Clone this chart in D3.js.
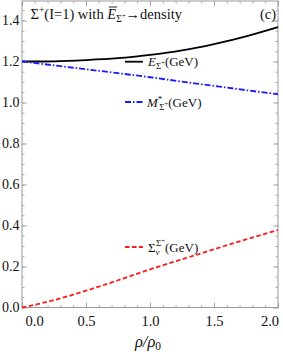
<!DOCTYPE html>
<html>
<head>
<meta charset="utf-8">
<script src="https://cdn.jsdelivr.net/npm/d3@7"></script>
<style>
  html, body { margin: 0; padding: 0; background: #fff; }
  svg { display: block; font-family: 'Liberation Serif', 'DejaVu Serif', serif; }
</style>
</head>
<body>
<svg id="chart" width="283" height="354"></svg>
<script>
'use strict';
// density rho/rho0
const RHO = [0, 0.25, 0.5, 0.75, 1.0, 1.25, 1.5, 1.75, 2.0];
// E_Sigma+ (GeV)
const ENERGY = [1.2, 1.201, 1.207, 1.216, 1.232, 1.254, 1.285, 1.323, 1.368];
// M*_Sigma+ (GeV)
const MASS = [1.2, 1.181, 1.162, 1.143, 1.123, 1.102, 1.081, 1.06, 1.04];
// Sigma_v (GeV)
const SIGMA_V = [0, 0.036, 0.082, 0.133, 0.186, 0.235, 0.284, 0.332, 0.378];

const X_TICKS = [0, 0.5, 1.0, 1.5, 2.0];
const Y_TICKS = [0, 0.2, 0.4, 0.6, 0.8, 1.0, 1.2, 1.4];

const FRAME = '#9a9a9a';
const SERIF = "'Liberation Serif', 'DejaVu Serif', serif";

let svg = d3.select('#chart');
let margin = { top: 1, right: 5, bottom: 46.5, left: 22 },
  width = 283 - margin.left - margin.right,
  height = 354 - margin.top - margin.bottom;

let x = d3.scaleLinear().domain([0, 2]).range([margin.left, margin.left + width]);
let y = d3.scaleLinear().domain([0, 1.495]).range([margin.top + height, margin.top]);

let xMinor = d3.range(0, 2.001, 0.1).map((v) => +v.toFixed(2));
let yMinor = d3.range(0, 1.49, 0.05).map((v) => +v.toFixed(2));

// frame ticks (all four sides, pointing inward)
function tickStyle(g) {
  g.select('.domain').remove();
  g.selectAll('.tick line').attr('stroke', FRAME).attr('stroke-width', 0.8);
}

svg.append('g')
  .attr('transform', `translate(0,${y(0)})`)
  .call(d3.axisBottom(x).tickValues(xMinor).tickSize(-2.5).tickFormat(''))
  .call(tickStyle);
svg.append('g')
  .attr('transform', `translate(0,${y(0)})`)
  .call(d3.axisBottom(x).tickValues(X_TICKS).tickSize(-5).tickPadding(8).tickFormat(d3.format('.1f')))
  .call(tickStyle)
  .call((g) => g.attr('font-family', SERIF))
  .call((g) => g.selectAll('.tick text').attr('fill', '#111').attr('font-size', 14.5))
  .call((g) => g.selectAll('.tick:first-of-type text').attr('text-anchor', 'start').attr('x', 3))
  .call((g) => g.selectAll('.tick:last-of-type text').attr('text-anchor', 'end').attr('x', 0.5));

svg.append('g')
  .attr('transform', `translate(0,${y.range()[1]})`)
  .call(d3.axisTop(x).tickValues(xMinor).tickSize(-2.5).tickFormat(''))
  .call(tickStyle);
svg.append('g')
  .attr('transform', `translate(0,${y.range()[1]})`)
  .call(d3.axisTop(x).tickValues(X_TICKS).tickSize(-5).tickFormat(''))
  .call(tickStyle);

svg.append('g')
  .attr('transform', `translate(${x(0)},0)`)
  .call(d3.axisLeft(y).tickValues(yMinor).tickSize(-2.5).tickFormat(''))
  .call(tickStyle);
svg.append('g')
  .attr('transform', `translate(${x(0)},0)`)
  .call(d3.axisLeft(y).tickValues(Y_TICKS).tickSize(-5).tickPadding(2.5).tickFormat(d3.format('.1f')))
  .call(tickStyle)
  .call((g) => g.attr('font-family', SERIF))
  .call((g) => g.selectAll('.tick text').attr('fill', '#111').attr('font-size', 14));

svg.append('g')
  .attr('transform', `translate(${x(2)},0)`)
  .call(d3.axisRight(y).tickValues(yMinor).tickSize(-2.5).tickFormat(''))
  .call(tickStyle);
svg.append('g')
  .attr('transform', `translate(${x(2)},0)`)
  .call(d3.axisRight(y).tickValues(Y_TICKS).tickSize(-5).tickFormat(''))
  .call(tickStyle);

svg.append('rect')
  .attr('x', x(0)).attr('y', y.range()[1])
  .attr('width', x(2) - x(0)).attr('height', y(0) - y.range()[1])
  .attr('fill', 'none').attr('stroke', FRAME).attr('stroke-width', 1);

// curves
let series = [
  { values: ENERGY, color: '#000', dash: null },
  { values: MASS, color: '#1a1aff', dash: '6,2,1.5,2' },
  { values: SIGMA_V, color: '#ff1a1a', dash: '4.5,2.5' },
];

let line = d3.line()
  .x((d) => x(d[0]))
  .y((d) => y(d[1]))
  .curve(d3.curveNatural);

svg.append('g')
  .selectAll('path')
  .data(series)
  .enter()
  .append('path')
  .attr('fill', 'none')
  .attr('stroke', (d) => d.color)
  .attr('stroke-width', 1.8)
  .attr('stroke-dasharray', (d) => d.dash)
  .attr('d', (d) => line(RHO.map((r, i) => [r, d.values[i]])));

// rich text helper: pieces = [{t, size, shift, italic, dx}]
function richText(parent, px, py, base, pieces) {
  let text = parent.append('text')
    .attr('x', px).attr('y', py)
    .attr('font-size', base).attr('font-family', SERIF).attr('fill', '#111');
  let prev = 0;
  pieces.forEach((p) => {
    let shift = p.shift || 0;
    let ts = text.append('tspan')
      .attr('dy', shift - prev)
      .attr('font-size', p.size || base)
      .text(p.t);
    if (p.italic) ts.attr('font-style', 'italic');
    if (p.dx) ts.attr('dx', p.dx);
    prev = shift;
  });
  return text;
}

// title
let title = richText(svg, 30.5, 18.5, 14.5, [
  { t: 'Σ' },
  { t: '+', size: 9.5, shift: -5.5 },
  { t: '(I=1) with ', shift: 0 },
  { t: 'E', italic: true },
  { t: 'Σ', size: 9.5, shift: 3 },
  { t: '+', size: 7, shift: -1 },
  { t: '→density', shift: 0 },
]);
// overline above the E
let titleStr = 'Σ+(I=1) with ';
let eBox = title.node().getExtentOfChar(titleStr.length);
svg.append('line')
  .attr('x1', eBox.x + 1.5).attr('x2', eBox.x + eBox.width + 1)
  .attr('y1', eBox.y + 1.5).attr('y2', eBox.y + 1.5)
  .attr('stroke', '#111').attr('stroke-width', 0.9);

svg.append('text')
  .attr('x', 276).attr('y', 18.5)
  .attr('text-anchor', 'end')
  .attr('font-size', 14.5)
  .attr('font-family', SERIF)
  .attr('fill', '#111')
  .text('(c)');

// legend entries
let legend = svg.append('g');
function legendKey(yy, s) {
  legend.append('line')
    .attr('x1', 125).attr('x2', 143)
    .attr('y1', yy).attr('y2', yy)
    .attr('stroke', s.color).attr('stroke-width', 1.8)
    .attr('stroke-dasharray', s.dash);
}
legendKey(61.7, series[0]);
richText(legend, 148, 66, 13, [
  { t: 'E', italic: true },
  { t: 'Σ', size: 9, shift: 3 },
  { t: '+', size: 6.5, shift: -1 },
  { t: '(GeV)', shift: 0 },
]);

legendKey(102, series[1]);
richText(legend, 147, 106.5, 13, [
  { t: 'M', italic: true },
  { t: '*', size: 9, shift: -5 },
  { t: 'Σ', size: 9, shift: 3.5, dx: -3 },
  { t: '+', size: 6.5, shift: -0.5 },
  { t: '(GeV)', shift: 0 },
]);

legendKey(247, series[2]);
richText(legend, 148, 251.5, 13, [
  { t: 'Σ' },
  { t: 'v', size: 9, shift: 3.5, italic: true },
  { t: 'Σ', size: 9, shift: -6, dx: -3.5 },
  { t: '+', size: 6.5, shift: -9 },
  { t: '(GeV)', shift: 0 },
]);

// x axis title
richText(svg, 148, 347, 16.5, [
  { t: 'ρ/ρ', italic: true },
  { t: '0', size: 11.5, shift: 3 },
]).attr('text-anchor', 'middle');
</script>
</body>
</html>
